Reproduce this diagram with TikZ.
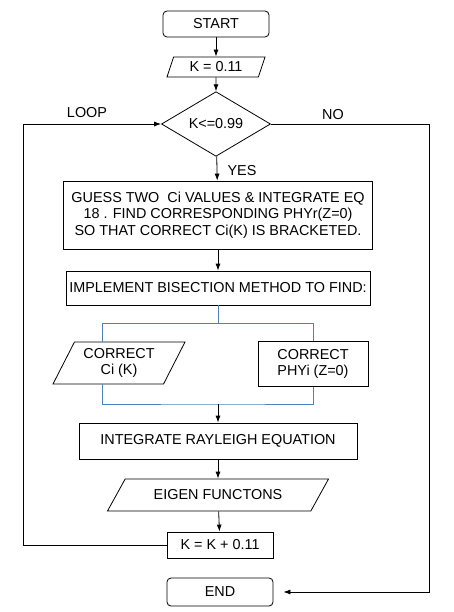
\documentclass[tikz,border=0pt]{standalone}
\usepackage{fontspec}
\setmainfont{Liberation Sans}
\usetikzlibrary{shapes.geometric,arrows.meta}
\definecolor{bluelink}{RGB}{79,129,189}

\begin{document}
\begin{tikzpicture}[
    x=1pt, y=-1pt, line width=0.8pt,
    every node/.style={font=\fontsize{14.4}{16.5}\selectfont},
    terminal/.style={rectangle, draw, rounded corners=4pt, minimum width=106pt, minimum height=26pt, inner sep=0pt},
    process/.style={rectangle, draw, align=center, inner sep=0pt},
    io/.style={trapezium, draw, align=center, trapezium stretches body, inner sep=0pt},
    decision/.style={diamond, draw, minimum width=109pt, minimum height=51pt, inner sep=0pt},
    flow/.style={draw, -{Latex[length=7pt,width=5pt]}},
    branch/.style={draw, bluelink}
]
\useasboundingbox (0,0) rectangle (453,612);

% Etapes du calcul
\node[terminal] (start) at (216,24) {START};
\node[io, trapezium left angle=57, trapezium right angle=123, minimum width=98pt, minimum height=20pt] (kinit) at (216,67) {K = 0.11};
\node[decision] (test) at (216,124) {K<=0.99};
\node[process, minimum width=309pt, minimum height=68pt] (guess) at (218,215) {GUESS TWO\ \ Ci VALUES \& INTEGRATE EQ\\18 . FIND CORRESPONDING PHYr(Z=0)\\SO THAT CORRECT Ci(K) IS BRACKETED.};
\node[process, minimum width=304pt, minimum height=34pt] (bisect) at (218,288) {IMPLEMENT BISECTION METHOD TO FIND:};
\node[io, trapezium left angle=54, trapezium right angle=126, minimum width=132pt, minimum height=42pt] (corrci) at (119,363) {CORRECT\\Ci (K)};
\node[process, minimum width=110pt, minimum height=45pt] (corrphy) at (313,364) {CORRECT\\PHYi (Z=0)};
\node[process, minimum width=278pt, minimum height=36pt] (rayleigh) at (218,441) {INTEGRATE RAYLEIGH EQUATION};
\node[io, trapezium left angle=30, trapezium right angle=150, minimum width=221pt, minimum height=32pt] (eigen) at (218,495) {EIGEN FUNCTONS};
\node[process, minimum width=106pt, minimum height=26pt] (incr) at (220,545) {K = K + 0.11};
\node[terminal, minimum height=28pt] (finish) at (220,592) {END};

% Etiquettes
\node (looplbl) at (87,113) {LOOP};
\node (nolbl) at (333,115) {NO};
\node (yeslbl) at (242,171) {YES};

% Points de passage
\coordinate (loopx) at (23,0);
\coordinate (nox) at (429,0);
\coordinate (split) at (218,323);
\coordinate (merge) at (218,404);

% Liaisons
\draw[flow] (start) -- (kinit);
\draw[flow] (kinit) -- (test);
\draw[flow] (test) -- (guess);
\draw[flow] (guess) -- (bisect);
\draw[branch] (bisect.south) -- (split);
\draw[branch] (split) -| ([xshift=-17pt]corrci.north);
\draw[branch] (split) -| (corrphy.north);
\draw[branch] ([xshift=-17pt]corrci.south) |- (merge) -| (corrphy.south);
\draw[flow] (merge) -- (rayleigh);
\draw[flow] (rayleigh) -- (eigen);
\draw[flow] (eigen) -- (incr);
\draw[flow] (incr.west) -| (loopx |- test) -- (test.west);
\draw[flow, shorten >=10pt] (test.east) -| (nox |- finish) -- (finish.east);

\end{tikzpicture}
\end{document}
